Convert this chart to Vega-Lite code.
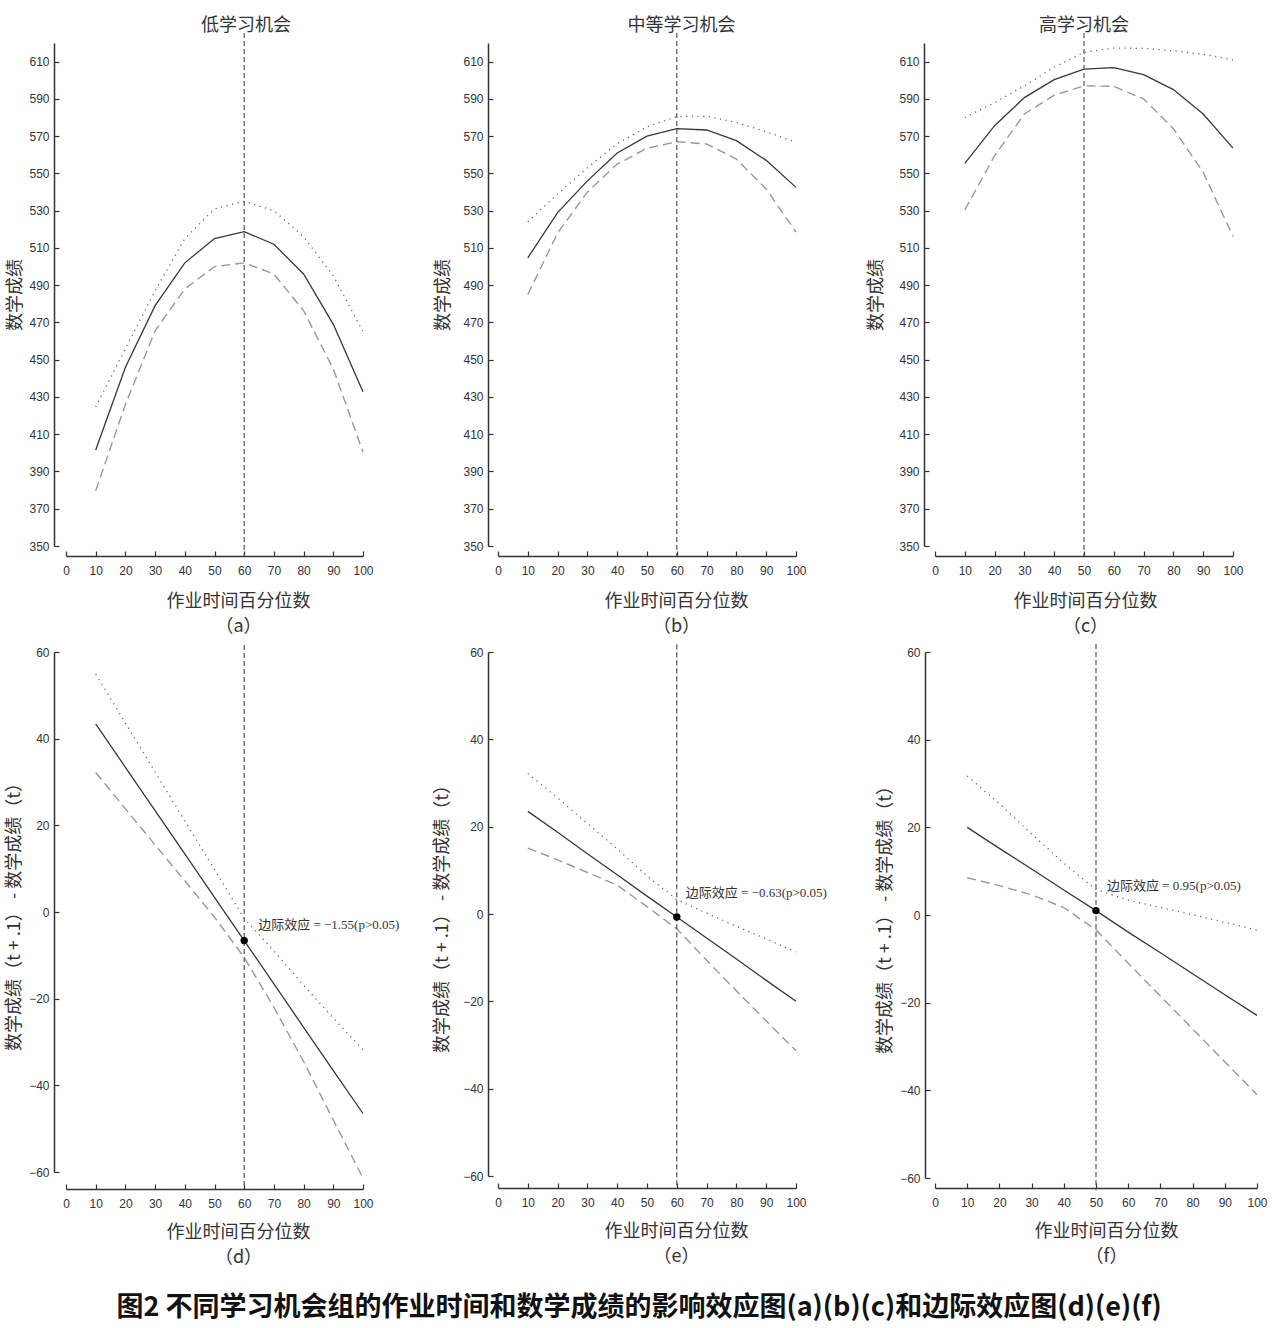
{
  "$schema": "https://vega.github.io/schema/vega-lite/v6.json",
  "background": "white",
  "autosize": {"type": "none"},
  "padding": {"left": 66, "top": 43, "right": 1214, "bottom": 1285},
  "config": {
    "view": {"stroke": null},
    "font": "Liberation Sans",
    "axis": {
      "grid": false,
      "domainColor": "#333",
      "domainWidth": 1.5,
      "tickColor": "#333",
      "tickWidth": 1.2,
      "tickSize": -5,
      "tickCount": 30,
      "labelColor": "#333",
      "labelFont": "Liberation Sans",
      "labelFontSize": 12,
      "labelOverlap": false,
      "labelFlush": false,
      "labelBound": false,
      "titleFont": "Noto Sans CJK SC",
      "titleFontSize": 18,
      "titleFontWeight": "normal",
      "titleColor": "#333"
    },
    "axisX": {"labelPadding": 14, "titleBaseline": "top", "titleLineHeight": 25, "titleAnchor": "start", "titleAlign": "center"},
    "axisY": {"labelPadding": 10, "titleBaseline": "middle", "titleAngle": -90},
    "title": {"font": "Noto Sans CJK SC", "fontSize": 18, "fontWeight": "normal", "color": "#333", "offset": -3}
  },
  "datasets": {
    "a": [
      {"x": 10, "est": 401.5, "upper": 424.6, "lower": 379.7},
      {"x": 20, "est": 446, "upper": 456, "lower": 426},
      {"x": 30, "est": 479, "upper": 487, "lower": 465.5},
      {"x": 40, "est": 502, "upper": 515, "lower": 488},
      {"x": 50, "est": 515, "upper": 531, "lower": 500},
      {"x": 60, "est": 518.7, "upper": 535, "lower": 502},
      {"x": 70, "est": 512, "upper": 530, "lower": 496},
      {"x": 80, "est": 496, "upper": 516, "lower": 476.3},
      {"x": 90, "est": 469, "upper": 495, "lower": 445},
      {"x": 100, "est": 432.8, "upper": 465, "lower": 400.5}
    ],
    "b": [
      {"x": 10, "est": 504.7, "upper": 524, "lower": 485},
      {"x": 20, "est": 529, "upper": 539, "lower": 518},
      {"x": 30, "est": 546, "upper": 553, "lower": 540},
      {"x": 40, "est": 561, "upper": 566, "lower": 555},
      {"x": 50, "est": 570, "upper": 575, "lower": 563.5},
      {"x": 60, "est": 574, "upper": 580.5, "lower": 567},
      {"x": 70, "est": 573.3, "upper": 580.7, "lower": 565.8},
      {"x": 80, "est": 567.6, "upper": 577.4, "lower": 557.7},
      {"x": 90, "est": 557, "upper": 572.4, "lower": 541.6},
      {"x": 100, "est": 542.5, "upper": 566.7, "lower": 518.5}
    ],
    "c": [
      {"x": 10, "est": 555.4, "upper": 580, "lower": 530.4},
      {"x": 20, "est": 575.6, "upper": 588, "lower": 559.5},
      {"x": 30, "est": 590.7, "upper": 597, "lower": 581.9},
      {"x": 40, "est": 600.3, "upper": 607, "lower": 592},
      {"x": 50, "est": 606, "upper": 615, "lower": 597},
      {"x": 60, "est": 606.8, "upper": 617.3, "lower": 596.7},
      {"x": 70, "est": 603, "upper": 617.1, "lower": 590},
      {"x": 80, "est": 595, "upper": 615.8, "lower": 574},
      {"x": 90, "est": 581.9, "upper": 614, "lower": 550.6},
      {"x": 100, "est": 563.6, "upper": 611, "lower": 516.2}
    ],
    "d": [
      {"x": 10, "est": 43.4, "upper": 54.9, "lower": 32.2},
      {"x": 20, "est": 33.4, "upper": 43.6, "lower": 23.8},
      {"x": 30, "est": 23.4, "upper": 32.3, "lower": 15.5},
      {"x": 40, "est": 13.4, "upper": 21.0, "lower": 7.2},
      {"x": 50, "est": 3.4, "upper": 9.8, "lower": -1.2},
      {"x": 60, "est": -6.6, "upper": -1.5, "lower": -10.5},
      {"x": 70, "est": -16.6, "upper": -9.0, "lower": -22.0},
      {"x": 80, "est": -26.6, "upper": -16.9, "lower": -34.5},
      {"x": 90, "est": -36.6, "upper": -24.5, "lower": -48.0},
      {"x": 100, "est": -46.5, "upper": -31.8, "lower": -61.4}
    ],
    "e": [
      {"x": 10, "est": 23.5, "upper": 32.2, "lower": 15.1},
      {"x": 20, "est": 18.7, "upper": 26.6, "lower": 12.4},
      {"x": 30, "est": 13.8, "upper": 20.7, "lower": 9.5},
      {"x": 40, "est": 9.0, "upper": 14.9, "lower": 6.6},
      {"x": 50, "est": 4.1, "upper": 8.7, "lower": 1.7},
      {"x": 60, "est": -0.7, "upper": 3.3, "lower": -3.4},
      {"x": 70, "est": -5.5, "upper": 0.2, "lower": -10.6},
      {"x": 80, "est": -10.3, "upper": -2.8, "lower": -17.6},
      {"x": 90, "est": -15.2, "upper": -5.7, "lower": -24.5},
      {"x": 100, "est": -20.0, "upper": -8.7, "lower": -31.3}
    ],
    "f": [
      {"x": 10, "est": 20.0, "upper": 31.7, "lower": 8.5},
      {"x": 20, "est": 15.2, "upper": 25.4, "lower": 6.7},
      {"x": 30, "est": 10.5, "upper": 18.5, "lower": 4.6},
      {"x": 40, "est": 5.7, "upper": 11.8, "lower": 1.7},
      {"x": 50, "est": 1.0, "upper": 5.8, "lower": -3.4},
      {"x": 60, "est": -3.9, "upper": 3.4, "lower": -11.0},
      {"x": 70, "est": -8.6, "upper": 1.7, "lower": -18.5},
      {"x": 80, "est": -13.4, "upper": 0.1, "lower": -26.0},
      {"x": 90, "est": -18.2, "upper": -1.7, "lower": -33.5},
      {"x": 100, "est": -22.9, "upper": -3.4, "lower": -41.0}
    ]
  },
  "title": {
    "text": "图2  不同学习机会组的作业时间和数学成绩的影响效应图(a)(b)(c)和边际效应图(d)(e)(f)",
    "orient": "bottom",
    "anchor": "middle",
    "fontSize": 27,
    "fontWeight": "bold",
    "color": "#111",
    "offset": 29,
    "dx": 3
  },
  "concat": [
    {
      "width": 432, "height": 503,
      "data": {"name": "a"},
      "title": {"text": "低学习机会", "dx": -36},
      "layer": [
        {"mark": {"type": "line", "color": "#999", "strokeWidth": 1.4, "strokeDash": [9, 5]},
         "encoding": {
           "x": {"field": "x", "type": "quantitative", "scale": {"domain": [0, 100], "range": [0, 297], "nice": false, "zero": false},
                 "axis": {"values": [0,10,20,30,40,50,60,70,80,90,100], "tickCount": 30, "title": ["作业时间百分位数", "（a）"], "titleX": 172, "titleY": 36, "offset": 10}},
           "y": {"field": "lower", "type": "quantitative", "scale": {"domain": [350, 620], "nice": false, "zero": false},
                 "axis": {"values": [350,370,390,410,430,450,470,490,510,530,550,570,590,610], "tickCount": 30, "title": "数学成绩", "titleX": -39, "offset": 12}}
         }},
        {"mark": {"type": "line", "color": "#666", "strokeWidth": 1.3, "strokeDash": [1.2, 4.5]},
         "encoding": {"x": {"field": "x", "type": "quantitative"}, "y": {"field": "upper", "type": "quantitative"}}},
        {"mark": {"type": "line", "color": "#383838", "strokeWidth": 1.3},
         "encoding": {"x": {"field": "x", "type": "quantitative"}, "y": {"field": "est", "type": "quantitative"}}},
        {"data": {"values": [{"ref": 60}]},
         "mark": {"type": "rule", "color": "#555", "strokeWidth": 1.2, "strokeDash": [5, 3]},
         "encoding": {"x": {"field": "ref", "type": "quantitative"}, "y": {"datum": 625.4}, "y2": {"datum": 344.6}}}
      ]
    },
    {
      "width": 437, "height": 503,
      "data": {"name": "b"},
      "title": {"text": "中等学习机会", "dx": -35},
      "layer": [
        {"mark": {"type": "line", "color": "#999", "strokeWidth": 1.4, "strokeDash": [9, 5]},
         "encoding": {
           "x": {"field": "x", "type": "quantitative", "scale": {"domain": [0, 100], "range": [0, 298], "nice": false, "zero": false},
                 "axis": {"values": [0,10,20,30,40,50,60,70,80,90,100], "tickCount": 30, "title": ["作业时间百分位数", "（b）"], "titleX": 178, "titleY": 36, "offset": 10}},
           "y": {"field": "lower", "type": "quantitative", "scale": {"domain": [350, 620], "nice": false, "zero": false},
                 "axis": {"values": [350,370,390,410,430,450,470,490,510,530,550,570,590,610], "tickCount": 30, "title": "数学成绩", "titleX": -45, "offset": 10}}
         }},
        {"mark": {"type": "line", "color": "#666", "strokeWidth": 1.3, "strokeDash": [1.2, 4.5]},
         "encoding": {"x": {"field": "x", "type": "quantitative"}, "y": {"field": "upper", "type": "quantitative"}}},
        {"mark": {"type": "line", "color": "#383838", "strokeWidth": 1.3},
         "encoding": {"x": {"field": "x", "type": "quantitative"}, "y": {"field": "est", "type": "quantitative"}}},
        {"data": {"values": [{"ref": 60}]},
         "mark": {"type": "rule", "color": "#555", "strokeWidth": 1.2, "strokeDash": [5, 3]},
         "encoding": {"x": {"field": "ref", "type": "quantitative"}, "y": {"datum": 625.4}, "y2": {"datum": 344.6}}}
      ]
    },
    {
      "width": 298, "height": 503,
      "data": {"name": "c"},
      "title": {"text": "高学习机会", "dx": 0},
      "layer": [
        {"mark": {"type": "line", "color": "#999", "strokeWidth": 1.4, "strokeDash": [9, 5]},
         "encoding": {
           "x": {"field": "x", "type": "quantitative", "scale": {"domain": [0, 100], "range": [0, 298], "nice": false, "zero": false},
                 "axis": {"values": [0,10,20,30,40,50,60,70,80,90,100], "tickCount": 30, "title": ["作业时间百分位数", "（c）"], "titleX": 150, "titleY": 36, "offset": 10}},
           "y": {"field": "lower", "type": "quantitative", "scale": {"domain": [350, 620], "nice": false, "zero": false},
                 "axis": {"values": [350,370,390,410,430,450,470,490,510,530,550,570,590,610], "tickCount": 30, "title": "数学成绩", "titleX": -48, "offset": 11}}
         }},
        {"mark": {"type": "line", "color": "#666", "strokeWidth": 1.3, "strokeDash": [1.2, 4.5]},
         "encoding": {"x": {"field": "x", "type": "quantitative"}, "y": {"field": "upper", "type": "quantitative"}}},
        {"mark": {"type": "line", "color": "#383838", "strokeWidth": 1.3},
         "encoding": {"x": {"field": "x", "type": "quantitative"}, "y": {"field": "est", "type": "quantitative"}}},
        {"data": {"values": [{"ref": 50}]},
         "mark": {"type": "rule", "color": "#555", "strokeWidth": 1.2, "strokeDash": [5, 3]},
         "encoding": {"x": {"field": "ref", "type": "quantitative"}, "y": {"datum": 625.4}, "y2": {"datum": 344.6}}}
      ]
    },
    {
      "width": 432, "height": 520,
      "data": {"name": "d"},
      "layer": [
        {"mark": {"type": "line", "color": "#999", "strokeWidth": 1.4, "strokeDash": [9, 5]},
         "encoding": {
           "x": {"field": "x", "type": "quantitative", "scale": {"domain": [0, 100], "range": [0, 297], "nice": false, "zero": false},
                 "axis": {"values": [0,10,20,30,40,50,60,70,80,90,100], "tickCount": 30, "title": ["作业时间百分位数", "（d）"], "titleX": 172, "titleY": 34, "offset": 17}},
           "y": {"field": "lower", "type": "quantitative", "scale": {"domain": [-60, 60], "nice": false, "zero": false},
                 "axis": {"values": [-60,-40,-20,0,20,40,60], "tickCount": 30, "title": "数学成绩（t + .1） - 数学成绩（t）", "titleX": -40, "offset": 12}}
         }},
        {"mark": {"type": "line", "color": "#666", "strokeWidth": 1.3, "strokeDash": [1.2, 4.5]},
         "encoding": {"x": {"field": "x", "type": "quantitative"}, "y": {"field": "upper", "type": "quantitative"}}},
        {"mark": {"type": "line", "color": "#383838", "strokeWidth": 1.3},
         "encoding": {"x": {"field": "x", "type": "quantitative"}, "y": {"field": "est", "type": "quantitative"}}},
        {"data": {"values": [{"ref": 60, "y": -6.6, "label": "边际效应 = −1.55(p>0.05)"}]},
         "layer": [
           {"mark": {"type": "rule", "color": "#555", "strokeWidth": 1.2, "strokeDash": [5, 3]},
            "encoding": {"x": {"field": "ref", "type": "quantitative"}, "y": {"datum": 61.6}, "y2": {"datum": -63.9}}},
           {"mark": {"type": "point", "filled": true, "color": "#000", "size": 55, "opacity": 1},
            "encoding": {"x": {"field": "ref", "type": "quantitative"}, "y": {"field": "y", "type": "quantitative"}}},
           {"mark": {"type": "text", "align": "left", "baseline": "middle", "dx": 14, "dy": -16, "font": "Liberation Serif, Noto Sans CJK SC", "fontSize": 13, "color": "#333"},
            "encoding": {"x": {"field": "ref", "type": "quantitative"}, "y": {"field": "y", "type": "quantitative"}, "text": {"field": "label"}}}
         ]}
      ]
    },
    {
      "width": 416, "height": 524,
      "data": {"name": "e"},
      "layer": [
        {"mark": {"type": "line", "color": "#999", "strokeWidth": 1.4, "strokeDash": [9, 5]},
         "encoding": {
           "x": {"field": "x", "type": "quantitative", "scale": {"domain": [0, 100], "range": [0, 298], "nice": false, "zero": false},
                 "axis": {"values": [0,10,20,30,40,50,60,70,80,90,100], "tickCount": 30, "title": ["作业时间百分位数", "（e）"], "titleX": 178, "titleY": 34, "offset": 12}},
           "y": {"field": "lower", "type": "quantitative", "scale": {"domain": [-60, 60], "nice": false, "zero": false},
                 "axis": {"values": [-60,-40,-20,0,20,40,60], "tickCount": 30, "title": "数学成绩（t + .1） - 数学成绩（t）", "titleX": -46, "offset": 10}}
         }},
        {"mark": {"type": "line", "color": "#666", "strokeWidth": 1.3, "strokeDash": [1.2, 4.5]},
         "encoding": {"x": {"field": "x", "type": "quantitative"}, "y": {"field": "upper", "type": "quantitative"}}},
        {"mark": {"type": "line", "color": "#383838", "strokeWidth": 1.3},
         "encoding": {"x": {"field": "x", "type": "quantitative"}, "y": {"field": "est", "type": "quantitative"}}},
        {"data": {"values": [{"ref": 60, "y": -0.7, "label": "边际效应 = −0.63(p>0.05)"}]},
         "layer": [
           {"mark": {"type": "rule", "color": "#555", "strokeWidth": 1.2, "strokeDash": [5, 3]},
            "encoding": {"x": {"field": "ref", "type": "quantitative"}, "y": {"datum": 61.8}, "y2": {"datum": -62.8}}},
           {"mark": {"type": "point", "filled": true, "color": "#000", "size": 55, "opacity": 1},
            "encoding": {"x": {"field": "ref", "type": "quantitative"}, "y": {"field": "y", "type": "quantitative"}}},
           {"mark": {"type": "text", "align": "left", "baseline": "middle", "dx": 9, "dy": -24, "font": "Liberation Serif, Noto Sans CJK SC", "fontSize": 13, "color": "#333"},
            "encoding": {"x": {"field": "ref", "type": "quantitative"}, "y": {"field": "y", "type": "quantitative"}, "text": {"field": "label"}}}
         ]}
      ]
    },
    {
      "width": 322, "height": 526,
      "data": {"name": "f"},
      "layer": [
        {"mark": {"type": "line", "color": "#999", "strokeWidth": 1.4, "strokeDash": [9, 5]},
         "encoding": {
           "x": {"field": "x", "type": "quantitative", "scale": {"domain": [0, 100], "range": [0, 322], "nice": false, "zero": false},
                 "axis": {"values": [0,10,20,30,40,50,60,70,80,90,100], "tickCount": 30, "title": ["作业时间百分位数", "（f）"], "titleX": 171, "titleY": 34, "offset": 10}},
           "y": {"field": "lower", "type": "quantitative", "scale": {"domain": [-60, 60], "nice": false, "zero": false},
                 "axis": {"values": [-60,-40,-20,0,20,40,60], "tickCount": 30, "title": "数学成绩（t + .1） - 数学成绩（t）", "titleX": -40, "offset": 10}}
         }},
        {"mark": {"type": "line", "color": "#666", "strokeWidth": 1.3, "strokeDash": [1.2, 4.5]},
         "encoding": {"x": {"field": "x", "type": "quantitative"}, "y": {"field": "upper", "type": "quantitative"}}},
        {"mark": {"type": "line", "color": "#383838", "strokeWidth": 1.3},
         "encoding": {"x": {"field": "x", "type": "quantitative"}, "y": {"field": "est", "type": "quantitative"}}},
        {"data": {"values": [{"ref": 50, "y": 1.0, "label": "边际效应 = 0.95(p>0.05)"}]},
         "layer": [
           {"mark": {"type": "rule", "color": "#555", "strokeWidth": 1.2, "strokeDash": [5, 3]},
            "encoding": {"x": {"field": "ref", "type": "quantitative"}, "y": {"datum": 61.8}, "y2": {"datum": -62.8}}},
           {"mark": {"type": "point", "filled": true, "color": "#000", "size": 55, "opacity": 1},
            "encoding": {"x": {"field": "ref", "type": "quantitative"}, "y": {"field": "y", "type": "quantitative"}}},
           {"mark": {"type": "text", "align": "left", "baseline": "middle", "dx": 11, "dy": -25, "font": "Liberation Serif, Noto Sans CJK SC", "fontSize": 13, "color": "#333"},
            "encoding": {"x": {"field": "ref", "type": "quantitative"}, "y": {"field": "y", "type": "quantitative"}, "text": {"field": "label"}}}
         ]}
      ]
    }
  ],
  "columns": 3,
  "spacing": {"row": 106, "column": 0},
  "bounds": "flush",
  "align": "none"
}
